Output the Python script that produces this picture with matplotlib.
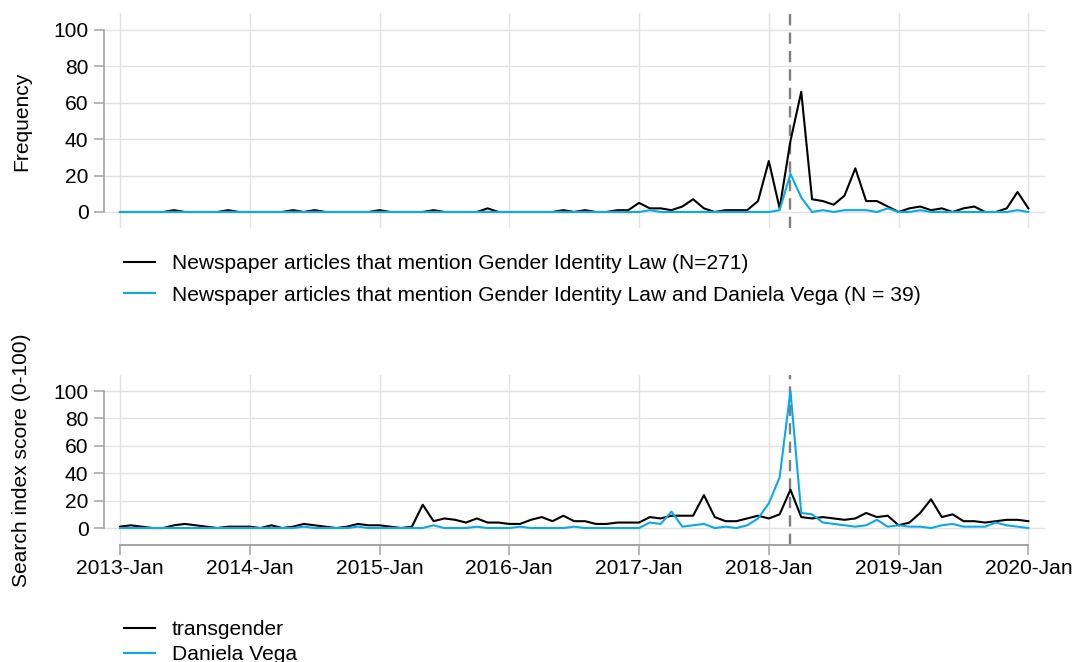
import numpy as np
import matplotlib
matplotlib.use("Agg")
import matplotlib.pyplot as plt

# monthly series, 2013-Jan .. 2020-Jan (85 months)
years = list(range(2013, 2021))
tick_labels = [f"{y}-Jan" for y in years]

news_all = [0, 0, 0, 0, 0, 1, 0, 0, 0, 0, 1, 0,
            0, 0, 0, 0, 1, 0, 1, 0, 0, 0, 0, 0,
            1, 0, 0, 0, 0, 1, 0, 0, 0, 0, 2, 0,
            0, 0, 0, 0, 0, 1, 0, 1, 0, 0, 1, 1,
            5, 2, 2, 1, 3, 7, 2, 0, 1, 1, 1, 6,
            28, 2, 39, 66, 7, 6, 4, 9, 24, 6, 6, 3,
            0, 2, 3, 1, 2, 0, 2, 3, 0, 0, 2, 11,
            2]
news_vega = [0, 0, 0, 0, 0, 0, 0, 0, 0, 0, 0, 0,
             0, 0, 0, 0, 0, 0, 0, 0, 0, 0, 0, 0,
             0, 0, 0, 0, 0, 0, 0, 0, 0, 0, 0, 0,
             0, 0, 0, 0, 0, 0, 0, 0, 0, 0, 0, 0,
             0, 1, 0, 0, 0, 0, 0, 0, 0, 0, 0, 0,
             0, 1, 21, 8, 0, 1, 0, 1, 1, 1, 0, 2,
             0, 0, 1, 0, 0, 0, 0, 0, 0, 0, 0, 1,
             0]

search_trans = [1, 2, 1, 0, 0, 2, 3, 2, 1, 0, 1, 1,
                1, 0, 2, 0, 1, 3, 2, 1, 0, 1, 3, 2,
                2, 1, 0, 1, 17, 5, 7, 6, 4, 7, 4, 4,
                3, 3, 6, 8, 5, 9, 5, 5, 3, 3, 4, 4,
                4, 8, 7, 9, 9, 9, 24, 8, 5, 5, 7, 9,
                7, 10, 28, 8, 7, 8, 7, 6, 7, 11, 8, 9,
                2, 4, 11, 21, 8, 10, 5, 5, 4, 5, 6, 6,
                5]
search_vega = [0, 0, 0, 0, 0, 0, 0, 0, 0, 0, 0, 0,
               0, 0, 0, 0, 0, 1, 0, 0, 0, 0, 1, 0,
               0, 0, 0, 0, 0, 2, 0, 0, 0, 1, 0, 0,
               0, 1, 0, 0, 0, 0, 1, 0, 0, 0, 0, 0,
               0, 4, 3, 12, 1, 2, 3, 0, 1, 0, 2, 7,
               18, 37, 100, 11, 10, 4, 3, 2, 1, 2, 6, 1,
               2, 1, 1, 0, 2, 3, 1, 1, 1, 4, 2, 1,
               0]

oscar_month = 62  # 2018-Mar

BLUE = "#0aa9e9"
GREY = "#a3a3a3"
GRID = "#e2e2e2"
FS = 15.1

plt.rcParams["font.family"] = ["Liberation Sans", "DejaVu Sans"]
plt.rcParams["font.size"] = FS

x = np.arange(len(news_all))
xlim = (-1.48, 85.54)

fig = plt.figure(figsize=(10.74, 6.62), dpi=100)
ax1 = fig.add_axes([0.0968, 0.6556, 0.8762, 0.3248])
ax2 = fig.add_axes([0.0968, 0.1767, 0.8762, 0.2568])


def style_axis(ax, ylim, show_x):
    ax.set_xlim(*xlim)
    ax.set_ylim(*ylim)
    ax.set_xticks(x[::12])
    ax.set_yticks(range(0, 101, 20))
    ax.grid(True, color=GRID, lw=1.0)
    ax.set_axisbelow(True)
    for s in ("top", "right"):
        ax.spines[s].set_visible(False)
    ax.spines["left"].set_color(GREY)
    ax.spines["left"].set_linewidth(1.2)
    ax.spines["left"].set_bounds(0, 100)
    ax.tick_params(axis="y", length=7.2, width=1.1, color=GREY, pad=4, labelsize=FS)
    if show_x:
        ax.spines["bottom"].set_color(GREY)
        ax.spines["bottom"].set_linewidth(1.4)
        ax.spines["bottom"].set_bounds(0, 84)
        ax.set_xticklabels(tick_labels)
        ax.tick_params(axis="x", length=7.2, width=1.1, color=GREY, pad=3, labelsize=FS)
    else:
        ax.spines["bottom"].set_visible(False)
        ax.tick_params(axis="x", length=0, labelbottom=False)
    ax.axvline(oscar_month, color="#7f7f7f", lw=1.7, dashes=(4.8, 3.0), zorder=1.5)


style_axis(ax1, (-8.79, 109.34), False)
style_axis(ax2, (-12.4, 111.7), True)

l1, = ax1.plot(x, news_all, color="black", lw=1.5)
l2, = ax1.plot(x, news_vega, color=BLUE, lw=1.5)
l3, = ax2.plot(x, search_trans, color="black", lw=1.5)
l4, = ax2.plot(x, search_vega, color=BLUE, lw=1.5)

fig.text(22 / 1074, 1 - 121 / 662, "Frequency", rotation=90,
         ha="center", va="center", fontsize=FS)
fig.text(22 / 1074, 1 - 460 / 662, "Search index score (0-100)", rotation=90,
         ha="center", va="center", fontsize=FS)

leg_kw = dict(loc="upper left", frameon=False, borderpad=0, borderaxespad=0,
              handlelength=1.48, handletextpad=0.81, fontsize=FS)
fig.legend([l1, l2],
           ["Newspaper articles that mention Gender Identity Law (N=271)",
            "Newspaper articles that mention Gender Identity Law and Daniela Vega (N = 39)"],
           bbox_to_anchor=(124 / 1074, 1 - 254 / 662), labelspacing=0.6, **leg_kw)
fig.legend([l3, l4], ["transgender", "Daniela Vega"],
           bbox_to_anchor=(124 / 1074, 1 - 620 / 662), labelspacing=0.3, **leg_kw)

fig.savefig("out.png", dpi=100)
